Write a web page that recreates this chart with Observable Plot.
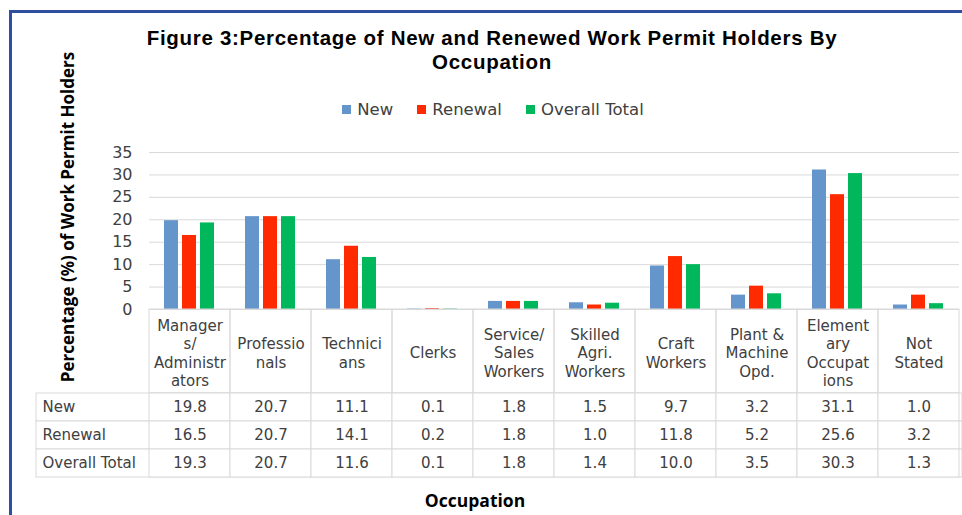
<!DOCTYPE html>
<html><head><meta charset="utf-8">
<script src="https://cdn.jsdelivr.net/npm/d3@7"></script>
<script src="https://cdn.jsdelivr.net/npm/@observablehq/plot@0.6"></script>
<style>
body{margin:0;background:#fff;}
#wrap{position:relative;width:962px;height:515px;overflow:hidden;background:#fff;}
#frame{position:absolute;left:9px;top:10px;width:1000px;height:600px;border-top:3px solid #2F4E9E;border-left:3px solid #2F4E9E;}
.title{position:absolute;left:0;width:984px;height:24px;text-align:center;font:bold 20.5px "Liberation Sans",Arial,sans-serif;letter-spacing:0.7px;line-height:24px;color:#000;white-space:nowrap;}
#legend{position:absolute;left:0;width:986px;top:100px;display:flex;justify-content:center;gap:24px;font:16.5px "DejaVu Sans",sans-serif;color:#404040;}
#legend span.sw{display:inline-block;width:9px;height:9px;margin-right:6px;}
#legend .item{display:flex;align-items:center;}
#ytitle{position:absolute;left:67px;top:217px;transform:translate(-50%,-50%) rotate(-90deg);white-space:nowrap;font:bold 17px "Open Sans",sans-serif;color:#000;}
#xtitle{position:absolute;left:475px;top:500px;transform:translate(-50%,-50%);white-space:nowrap;font:bold 17.5px "Open Sans",sans-serif;color:#000;}
#chart{position:absolute;left:0;top:0;}
#table{position:absolute;left:0;top:393px;}
</style></head>
<body><div id="wrap"><div id="frame"></div>
<div id="chart"></div><div id="table"></div>
<div class="title" style="top:26px">Figure 3:Percentage of New and Renewed Work Permit Holders By</div>
<div class="title" style="top:50px">Occupation</div>
<div id="legend"></div>
<div id="ytitle">Percentage (%) of Work Permit Holders</div>
<div id="xtitle">Occupation</div>
</div>
<script>
const occupations = ["Managers/ Administrators","Professionals","Technicians","Clerks","Service/ Sales Workers","Skilled Agri. Workers","Craft Workers","Plant & Machine Opd.","Elementary Occupations","Not Stated"];
const headerLabels = ["Manager\ns/\nAdministr\nators","Professio\nnals","Technici\nans","Clerks","Service/\nSales\nWorkers","Skilled\nAgri.\nWorkers","Craft\nWorkers","Plant &\nMachine\nOpd.","Element\nary\nOccupat\nions","Not\nStated"];
const seriesNames = ["New","Renewal","Overall Total"];
const newValues = [19.8,20.7,11.1,0.1,1.8,1.5,9.7,3.2,31.1,1.0];
const renewalValues = [16.5,20.7,14.1,0.2,1.8,1.0,11.8,5.2,25.6,3.2];
const overallValues = [19.3,20.7,11.6,0.1,1.8,1.4,10.0,3.5,30.3,1.3];
const colors = ["#6495CB","#FF2A00","#00B75C"];
const yTicks = [0,5,10,15,20,25,30,35];

const valuesBySeries = [newValues, renewalValues, overallValues];
const rows = [];
seriesNames.forEach((s, si) => occupations.forEach((o, oi) => rows.push({series: s, occupation: o, value: valuesBySeries[si][oi]})));

// legend
const legend = document.getElementById("legend");
seriesNames.forEach((s, i) => {
  const it = document.createElement("div"); it.className = "item";
  const sw = document.createElement("span"); sw.className = "sw"; sw.style.background = colors[i];
  it.appendChild(sw); it.appendChild(document.createTextNode(s));
  legend.appendChild(it);
});

const gridColor = "#d9d9d9";
const textColor = "#404040";

const chart = Plot.plot({
  width: 962, height: 393,
  marginTop: 152, marginBottom: 84, marginLeft: 146, marginRight: 0,
  style: {background: "transparent", fontFamily: "DejaVu Sans", fontSize: "16px", color: textColor, overflow: "visible"},
  fx: {domain: occupations, padding: 0, axis: null, label: null},
  x: {domain: seriesNames, paddingInner: 0.22, paddingOuter: 0.834, axis: null},
  y: {domain: [0, 35], axis: null},
  color: {domain: seriesNames, range: colors},
  marks: [
    Plot.gridY(yTicks, {stroke: gridColor, strokeOpacity: 1, strokeWidth: 1}),
    Plot.axisY(yTicks, {tickSize: 0, tickPadding: 17, fontSize: 16, label: null, fill: textColor}),
    Plot.barY(rows, {fx: "occupation", x: "series", y: "value", fill: "series"}),
    Plot.rect(occupations, {fx: d => d, y1: 0, y2: 0, insetBottom: -84, stroke: gridColor, fill: "none"}),
    Plot.text(occupations, {fx: d => d, text: (d, i) => headerLabels[i], frameAnchor: "bottom", dy: 43, lineAnchor: "middle", lineHeight: 1.22, fontSize: 15, fill: textColor})
  ]
});
document.getElementById("chart").appendChild(chart);

const table = Plot.plot({
  width: 962, height: 85,
  marginTop: 0, marginBottom: 1, marginLeft: 146, marginRight: 0,
  style: {background: "transparent", fontFamily: "DejaVu Sans", fontSize: "15px", color: textColor, overflow: "visible"},
  x: {domain: occupations, padding: 0, axis: null},
  y: {domain: seriesNames, padding: 0, axis: null},
  marks: [
    Plot.cell(seriesNames, {y: d => d, insetLeft: -110, fill: "white", stroke: gridColor}),
    Plot.cell(rows, {x: "occupation", y: "series", fill: "white", stroke: gridColor}),
    Plot.text(rows, {x: "occupation", y: "series", text: d => d.value.toFixed(1), fontSize: 15, fill: textColor}),
    Plot.text(seriesNames, {y: d => d, frameAnchor: "left", dx: -104, textAnchor: "start", text: d => d, fontSize: 15, fill: textColor})
  ]
});
document.getElementById("table").appendChild(table);
</script>
</body></html>
